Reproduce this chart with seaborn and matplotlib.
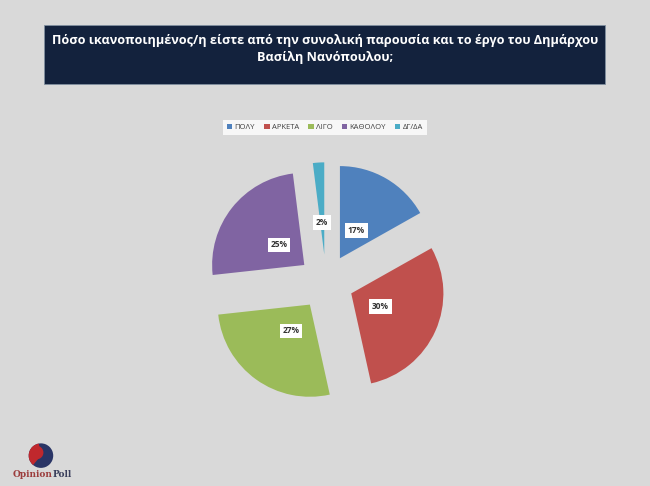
import matplotlib
matplotlib.use("Agg")
import matplotlib.pyplot as plt
import seaborn as sns
from matplotlib.patches import Rectangle, Wedge, Patch

# survey answers (clockwise from 12 o'clock)
categories = ["ΠΟΛΥ", "ΑΡΚΕΤΑ", "ΛΙΓΟ", "ΚΑΘΟΛΟΥ", "ΔΓ/ΔΑ"]
shares = [17, 30, 27, 25, 2]
colors = ["#4f81bd", "#c0504d", "#9bbb59", "#8064a2", "#4bacc6"]

title = "Πόσο ικανοποιημένος/η είστε από την συνολική παρουσία και το έργο του Δημάρχου\nΒασίλη Νανόπουλου;"

sns.set_theme(style="white")
plt.rcParams["font.family"] = ["Open Sans", "DejaVu Sans"]

bg = "#d9d9d9"
fig = plt.figure(figsize=(6.5, 4.86), dpi=100, facecolor=bg)

# title banner
fig.patches.append(Rectangle((0.068, 0.827), 0.863, 0.121, transform=fig.transFigure,
                             facecolor="#13223d", edgecolor="#8090a0", linewidth=0.6))
fig.text(0.5, 0.899, title, ha="center", va="center", color="white",
         fontsize=9.1, fontweight="bold", linespacing=1.45)

# pie
total = sum(shares)
ax = fig.add_axes([0.303, 0.154, 0.397, 0.531])
ax.set_facecolor(bg)
wedges, texts, autotexts = ax.pie(
    shares, colors=colors, startangle=90, counterclock=False,
    explode=[0.3] * len(shares), autopct=lambda p: f"{p * total / 100:.0f}%",
    pctdistance=0.35, wedgeprops=dict(linewidth=0),
    textprops=dict(fontsize=6, fontweight="bold", color="#333333"),
)
for t in autotexts:
    t.set_bbox(dict(facecolor="white", edgecolor="none", pad=2))
ax.set_xlim(-1.4, 1.4)
ax.set_ylim(-1.4, 1.4)
ax.set_aspect("equal")
ax.axis("off")

# legend
handles = [Patch(facecolor=c, edgecolor="none") for c in colors]
leg = fig.legend(handles, categories, loc="center", bbox_to_anchor=(0.5, 0.737),
                 ncol=5, fontsize=5.5, frameon=True, fancybox=False,
                 handlelength=0.7, handleheight=0.7, handletextpad=0.3,
                 columnspacing=1.2, borderpad=0.5, labelcolor="#404040")
leg.get_frame().set_facecolor("white")
leg.get_frame().set_edgecolor("white")
leg.get_frame().set_linewidth(0)

# logo
lax = fig.add_axes([0.043, 0.036, 0.04, 0.053])
lax.add_patch(Wedge((0, 0), 1, 0, 360, facecolor="#2a3566", linewidth=0))
lax.add_patch(Wedge((0, 0), 1, 100, 230, facecolor="#c0282d", linewidth=0))
lax.add_patch(Wedge((-0.35, 0.25), 0.55, 0, 360, facecolor="#c0282d", linewidth=0))
lax.set_xlim(-1.05, 1.05)
lax.set_ylim(-1.05, 1.05)
lax.set_aspect("equal")
lax.axis("off")
txt = fig.text(0.02, 0.018, "Opinion", color="#9c3d3d", fontsize=6.5,
               fontweight="bold", family="DejaVu Serif")
fig.canvas.draw()
bb = txt.get_window_extent()
fig.text(bb.x1 / fig.bbox.width, 0.018, "Poll", color="#3a3f5c", fontsize=6.5,
         fontweight="bold", family="DejaVu Serif")

fig.savefig("out.png", dpi=100, facecolor=bg)
